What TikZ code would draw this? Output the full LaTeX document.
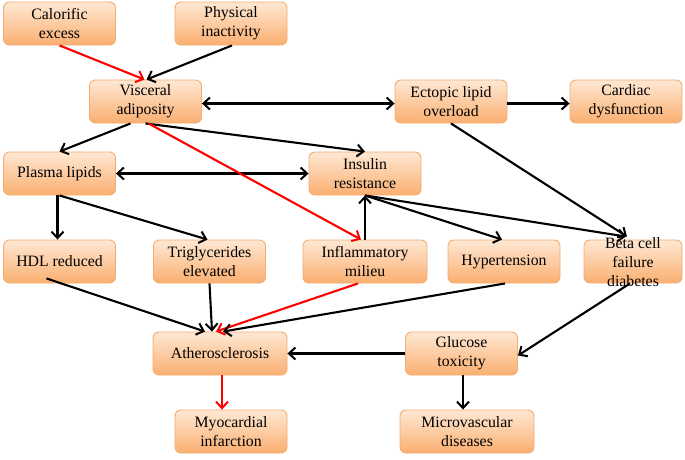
\documentclass[tikz,border=0pt]{standalone}
\usepackage{fontspec}
\setmainfont{Liberation Serif}
\usetikzlibrary{arrows.meta,calc}
\definecolor{boxtop}{RGB}{254,232,212}
\definecolor{boxbot}{RGB}{250,175,112}
\definecolor{boxline}{RGB}{244,172,112}
\definecolor{redarr}{RGB}{255,0,0}
\begin{document}
\begin{tikzpicture}[x=1pt,y=-1pt,
  box/.style={draw=boxline,line width=0.9pt,rounded corners=6pt,top color=boxtop,bottom color=boxbot,
    minimum width=112pt,minimum height=43pt,align=center,inner sep=1pt,
    font=\fontsize{15.8}{19}\selectfont},
  txt/.style={align=center,inner sep=0pt,font=\fontsize{15.8}{19}\selectfont},
  tip/.tip={Straight Barb[length=6.5pt,width=12pt,line width=2pt]},
  arr/.style={line width=2.1pt,-tip},
  darr/.style={line width=2.1pt,tip-tip},
  rarr/.style={arr,draw=redarr}]
\useasboundingbox (0,0) rectangle (685,459);
\fill[white] (0,0) rectangle (685,459);
% nodes
\node[box] (cal) at (59.5,23.5) {Calorific\\excess};
\node[box] (phys) at (231,23.5) {Physical\\inactivity};
\node[box] (vis) at (145.5,101.5) {Visceral\\adiposity};
\node[box] (ect) at (451,101.5) {Ectopic lipid\\overload};
\node[box] (card) at (626,101.5) {Cardiac\\dysfunction};
\node[box] (pl) at (59.5,173.5) {Plasma lipids};
\node[box] (ins) at (365,173.5) {Insulin\\resistance};
\node[box] (hdl) at (59.5,261.5) {HDL reduced};
\node[box] (tri) at (209.5,261.5) {Triglycerides\\elevated};
\node[box,minimum width=124pt] (inf) at (365,261.5) {Inflammatory\\milieu};
\node[box] (hyp) at (504,261.5) {Hypertension};
\node[box,minimum width=98pt] (beta) at (633,261.5) {};
\node[txt] (betat) at (633,262.5) {Beta cell\\failure\\diabetes};
\node[box,minimum width=134pt] (ath) at (220,353.5) {Atherosclerosis};
\node[box] (glu) at (461.5,353.5) {Glucose\\toxicity};
\node[box] (myo) at (231,431.5) {Myocardial\\infarction};
\node[box,minimum width=134pt] (mic) at (467,431.5) {Microvascular\\diseases};
% connectors
\draw[rarr] (cal.south) -- ([xshift=-1pt]vis.north);
\draw[arr] ([xshift=1pt]phys.south) -- ([xshift=1pt]vis.north);
\draw[darr] ([yshift=-2pt]vis.east) -- ([yshift=-2pt]ect.west);
\draw[arr] ([yshift=-2pt]ect.east) -- ([yshift=-2pt]card.west);
\draw[arr] ([xshift=-15pt]vis.south) -- (pl.north);
\draw[arr] (vis.south) -- (ins.north);
\draw[darr] (pl.east) -- (ins.west);
\draw[arr] ([xshift=-2pt]pl.south) -- ([xshift=-2pt]hdl.north);
\draw[arr] (pl.south) -- ([xshift=-2pt]tri.north);
\draw[arr] (inf.north) -- (ins.south);
\draw[arr] (ins.south) -- ([xshift=-2pt]hyp.north);
\draw[arr] (ins.south) -- ([xshift=-7pt,yshift=3pt]beta.north);
\draw[arr] (ect.south) -- ([xshift=-6pt,yshift=3pt]beta.north);
\draw[rarr] ([xshift=3pt]vis.south) -- ([xshift=-4pt]inf.north);
\draw[arr] ([xshift=-13pt,yshift=5pt]hdl.south) -- ([xshift=-15pt]ath.north);
\draw[arr] (tri.south) -- ([xshift=-8pt]ath.north);
\draw[rarr] ([xshift=-7pt]inf.south) -- ([xshift=-4pt]ath.north);
\draw[arr] ([xshift=1pt]hyp.south) -- ([xshift=3pt]ath.north);
\draw[arr] ([xshift=-3pt]beta.south) -- ([yshift=-2pt]glu.east);
\draw[arr] (glu.west) -- (ath.east);
\draw[rarr] ([xshift=2pt]ath.south) -- ([xshift=-9pt]myo.north);
\draw[arr] ([xshift=1.5pt]glu.south) -- ([xshift=-4pt]mic.north);
\end{tikzpicture}
\end{document}
